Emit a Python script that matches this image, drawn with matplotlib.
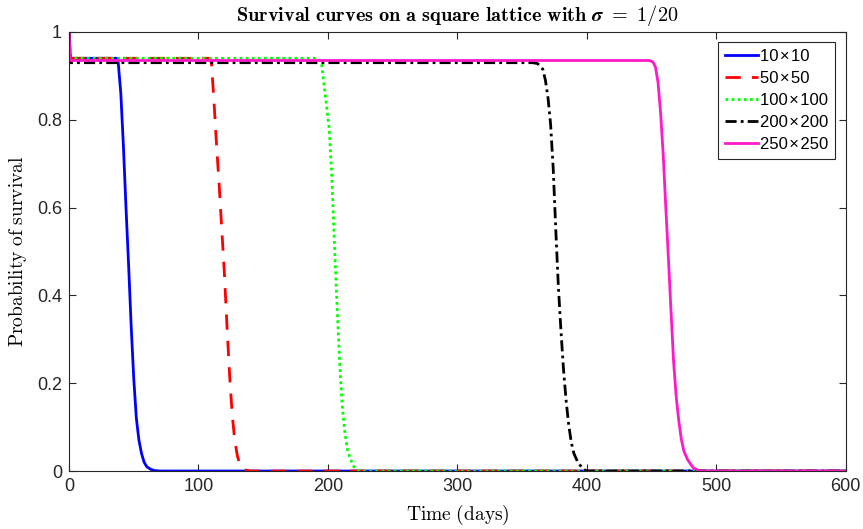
import matplotlib
matplotlib.use("Agg")
import matplotlib.pyplot as plt

plt.rcParams['mathtext.fontset'] = 'cm'

# ---- data ----
labels = ["10\u200a×\u200a10", "50\u200a×\u200a50", "100\u200a×\u200a100",
          "200\u200a×\u200a200", "250\u200a×\u200a250"]

t_10 = [0, 1, 37, 38, 40, 42, 44, 46, 48, 50, 52, 54, 56, 58, 60, 63, 66, 70, 600]
p_10 = [1, 0.94, 0.94, 0.93, 0.86, 0.74, 0.60, 0.47, 0.33, 0.21, 0.12, 0.07, 0.04, 0.02, 0.01, 0.004, 0.001, 0, 0]

t_50 = [0, 1, 108, 110, 112, 114, 116, 118, 120, 122, 124, 126, 128, 130, 132, 135, 140, 600]
p_50 = [1, 0.94, 0.94, 0.93, 0.84, 0.74, 0.65, 0.55, 0.45, 0.33, 0.22, 0.13, 0.07, 0.035, 0.015, 0.003, 0, 0]

t_100 = [0, 1, 192, 195, 197, 199, 201, 203, 205, 207, 209, 211, 213, 215, 217, 220, 224, 600]
p_100 = [1, 0.94, 0.94, 0.93, 0.88, 0.83, 0.78, 0.67, 0.52, 0.38, 0.25, 0.15, 0.09, 0.05, 0.03, 0.01, 0, 0]

t_200 = [0, 1, 358, 362, 366, 368, 370, 372, 374, 376, 378, 380, 382, 384, 386, 388, 390, 393, 397, 400, 600]
p_200 = [1, 0.93, 0.93, 0.928, 0.915, 0.89, 0.85, 0.79, 0.69, 0.55, 0.42, 0.32, 0.23, 0.16, 0.105, 0.065, 0.04, 0.02, 0.005, 0, 0]

t_250 = [0, 1, 448, 451, 453, 455, 457, 459, 461, 463, 465, 467, 469, 471, 473, 475, 478, 482, 487, 600]
p_250 = [1, 0.935, 0.935, 0.932, 0.92, 0.885, 0.815, 0.72, 0.60, 0.485, 0.365, 0.25, 0.17, 0.115, 0.072, 0.045, 0.025, 0.008, 0, 0]

xticks = [0, 100, 200, 300, 400, 500, 600]
yticks = [0, 0.2, 0.4, 0.6, 0.8, 1]
ytick_labels = ["0", "0.2", "0.4", "0.6", "0.8", "1"]

fig = plt.figure(figsize=(8.63, 5.29), dpi=100)
ax = fig.add_axes([0.080, 0.1096, 0.900, 0.830])

lw = 2.0
ax.plot(t_10, p_10, color='#0000ff', lw=lw, ls='-', label=labels[0])
ax.plot(t_50, p_50, color='#ff0000', lw=lw, ls=(0, (5.5, 4)), label=labels[1])
ax.plot(t_100, p_100, color='#00ff00', lw=lw, ls=(0, (1, 1.2)), label=labels[2])
ax.plot(t_200, p_200, color='#000000', lw=lw, ls=(0, (4, 1.5, 1, 1.5)), label=labels[3])
ax.plot(t_250, p_250, color='#ff19c8', lw=lw, ls='-', label=labels[4])

ax.set_xlim(0, 600)
ax.set_ylim(0, 1)
ax.set_xticks(xticks)
ax.set_yticks(yticks)
ax.set_yticklabels(ytick_labels)

for lab in ax.get_xticklabels() + ax.get_yticklabels():
    lab.set_fontfamily('Liberation Sans')
    lab.set_fontsize(13)
    lab.set_color('#262626')

ax.tick_params(direction='in', length=5, width=0.8, color='#262626',
               top=True, right=True, pad=5)
for s in ax.spines.values():
    s.set_color('#262626')
    s.set_linewidth(0.8)

ax.set_xlabel(r"$\mathrm{Time\ (days)}$", fontsize=14, labelpad=6)
ax.set_ylabel(r"$\mathrm{Probability\ of\ survival}$", fontsize=14, labelpad=6)

ax.set_title(r"$\mathbf{Survival\ curves\ on\ a\ square\ lattice\ with}\ \boldsymbol{\sigma}\ \mathbf{=\ 1/20}$",
             fontsize=14.6, pad=8)

leg = ax.legend(loc='upper right', fancybox=False, framealpha=1,
                edgecolor='#262626', handlelength=2.0, handletextpad=0.15,
                borderaxespad=0.62, labelspacing=0.42, borderpad=0.4,
                prop=dict(family=['Liberation Sans', 'DejaVu Sans'], size=12))
leg.get_frame().set_linewidth(0.8)

fig.savefig("out.png", dpi=100)
